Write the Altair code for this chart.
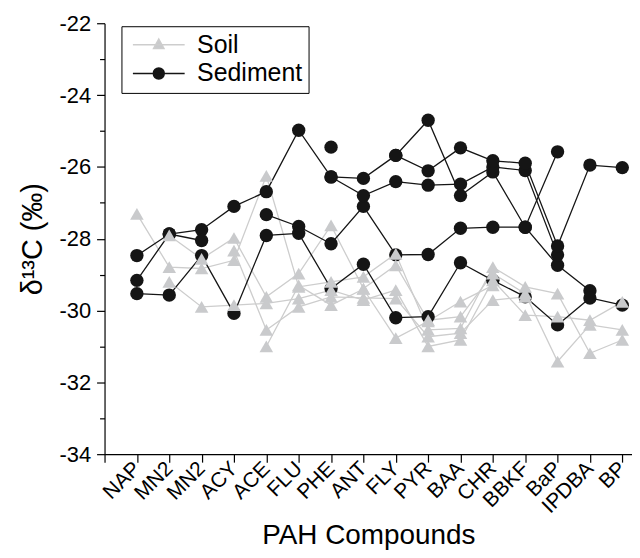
import altair as alt
import pandas as pd

categories = ["NAP", "MN2", "MN2", "ACY", "ACE", "FLU", "PHE", "ANT", "FLY",
              "PYR", "BAA", "CHR", "BBKF", "BaP", "IPDBA", "BP"]

N = None
sediment = {
    "A": [-28.47, -27.87, -27.75, -27.10, -26.69, -24.98, -26.28, -26.32, -25.68, -24.70, -26.80, -26.14, -27.68, -28.74, -29.45, N],
    "B": [-29.16, -27.87, -28.05, N, -27.33, -27.66, -28.14, -27.10, -28.45, -28.44, -27.71, -27.68, -27.68, -25.58, N, N],
    "C": [-29.53, -29.57, -28.47, -30.08, -27.91, -27.85, -29.39, -28.71, -30.20, -30.17, -28.67, -29.16, -29.62, -30.40, -29.65, -29.85],
    "D": [N, N, N, N, N, N, -26.28, -26.80, -26.41, -26.51, -26.48, -26.00, -26.10, -28.45, N, N],
    "E": [N, N, N, N, N, N, -25.45, N, -25.68, -26.11, -25.47, -25.83, -25.90, -28.20, -25.95, -26.02],
}
soil = {
    "s1": [-27.31, -28.79, -28.83, -28.60, -26.25, -29.34, -29.20, -29.06, -28.42, -30.54, -30.50, -28.79, -29.34, -29.53, -31.19, -30.82],
    "s2": [N, -27.91, -28.56, -27.98, -29.62, -28.97, -27.63, -29.39, -28.74, -30.27, -30.17, -28.97, -29.53, -31.42, -30.40, -30.54],
    "s3": [N, -29.20, -29.90, -29.85, -29.80, -29.67, -29.43, -29.71, -29.43, -31.00, -30.82, -29.16, -30.13, -30.17, -30.27, -29.76],
    "s4": [N, N, N, -28.33, -30.54, -29.90, -29.62, -29.65, -29.67, -30.73, -30.63, -29.71, -29.62, N, N, N],
    "s5": [N, N, N, N, -31.00, -29.30, -29.85, -29.40, -30.77, -30.30, -29.75, -29.30, N, N, N, N],
}

SOIL_LINE = "#cdcdcd"
SOIL_FILL = "#c9cacc"
SED = "#151515"


def rows(group, series):
    out = []
    for name, vals in series.items():
        seg, gap = 0, True
        for i, v in enumerate(vals):
            if v is None:
                gap = True
                continue
            if gap:
                seg += 1
            gap = False
            out.append({"type": group, "series": name, "seg": f"{group}-{name}-{seg}",
                        "x": i + 1, "y": v})
    return out


df = pd.DataFrame(rows("Soil", soil) + rows("Sediment", sediment))

label_arr = "[''," + ",".join(f"'{c}'" for c in categories) + "]"

x = alt.X("x:Q",
          scale=alt.Scale(domain=[0, 16.3], nice=False, zero=False),
          axis=alt.Axis(values=list(range(len(categories) + 1)),
                        labelExpr=f"{label_arr}[datum.value]",
                        labelAngle=-45, labelAlign="right", labelBaseline="middle",
                        labelPadding=3, tickSize=8, labelFontSize=21,
                        title="PAH Compounds", titleFontSize=28, titlePadding=5,
                        labelOverlap=False))
y = alt.Y("y:Q",
          scale=alt.Scale(domain=[-34, -22], nice=False, zero=False),
          axis=alt.Axis(values=list(range(-34, -21)),
                        labelExpr="datum.value % 2 == 0 ? '' + datum.value : ''",
                        tickSize={"condition": {"test": "datum.value % 2 == 0", "value": 8}, "value": 5},
                        labelPadding=6, labelFontSize=22,
                        title="δ¹³C (‰)", titleFontSize=29, titlePadding=12))

base = alt.Chart(df).encode(x=x, y=y)

soil_lines = base.transform_filter("datum.type == 'Soil'").mark_line(
    color=SOIL_LINE, strokeWidth=1.3).encode(detail="seg:N", order="x:Q")
sed_lines = base.transform_filter("datum.type == 'Sediment'").mark_line(
    color=SED, strokeWidth=1.3).encode(detail="seg:N", order="x:Q")
sed_pts = base.transform_filter("datum.type == 'Sediment'").mark_point(
    shape="circle", filled=True, size=180, color=SED, opacity=1)
soil_pts = base.transform_filter("datum.type == 'Soil'").mark_point(
    shape="triangle-up", filled=True, size=185, color=SOIL_FILL, opacity=1)

leg_domain = ["Soil", "Sediment"]
leg_colors = [SOIL_FILL, SED]
soil_sym = "M-2.6,0H2.6M0,-0.55L0.52,0.39L-0.52,0.39Z"
sed_sym = "M-2.6,0H2.6M0.55,0A0.55,0.55,0,1,1,-0.55,0A0.55,0.55,0,1,1,0.55,0Z"
legend = alt.Legend(title=None, orient="none", legendX=17, legendY=3,
                    strokeColor="black", padding=6,
                    labelFontSize=25, labelFont="Liberation Sans", labelColor="black",
                    symbolSize=400, symbolStrokeWidth=1.5, symbolOpacity=1,
                    symbolOffset=19, labelOffset=26, rowPadding=3)
legend_layer = base.transform_filter("false").mark_point(
    filled=True, size=400, strokeWidth=1.5).encode(
    color=alt.Color("type:N", scale=alt.Scale(domain=leg_domain, range=leg_colors), legend=legend),
    stroke=alt.Stroke("type:N", scale=alt.Scale(domain=leg_domain, range=[SOIL_LINE, SED]), legend=legend),
    shape=alt.Shape("type:N", scale=alt.Scale(domain=leg_domain, range=[soil_sym, sed_sym]), legend=legend),
)

chart = alt.layer(soil_lines, sed_lines, sed_pts, soil_pts, legend_layer).properties(
    width=530, height=433,
    autosize=alt.AutoSizeParams(type="none"),
    padding={"left": 97, "top": 14, "right": 0, "bottom": 100},
).configure_view(stroke=None).configure_axis(
    domainColor="black", domainWidth=1.2, tickColor="black", tickWidth=1.2,
    labelFont="Liberation Sans", labelColor="black",
    titleFont="Liberation Sans", titleFontWeight="normal", titleColor="black",
    grid=False,
).configure_legend(strokeWidth=1)

chart.save("out.html", embed_options={"renderer": "svg", "actions": False})
